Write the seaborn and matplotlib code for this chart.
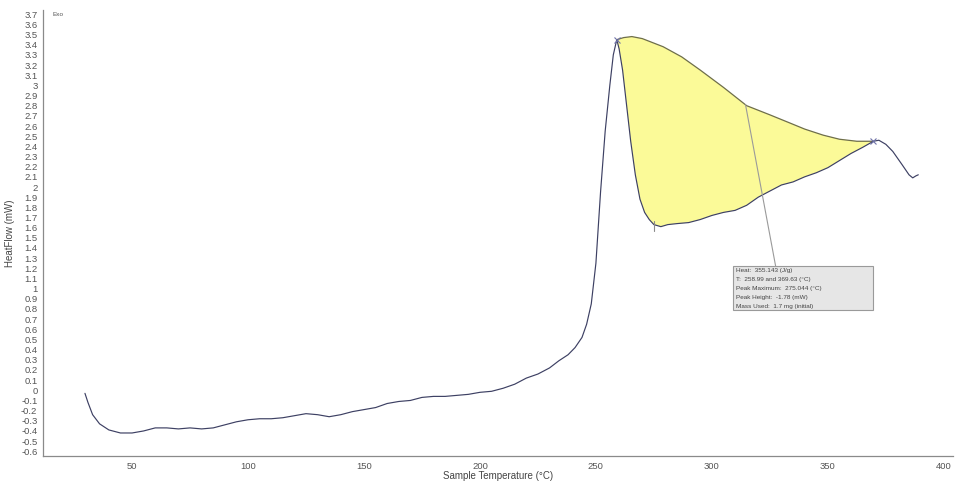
import numpy as np
import pandas as pd
import matplotlib
matplotlib.use("Agg")
import matplotlib.pyplot as plt
from matplotlib.patches import Rectangle
import seaborn as sns

# DSC heat-flow trace
temperature = [29.7, 31, 33, 36, 40, 45, 50, 55, 60, 65, 70, 75, 80, 85, 90, 95,
               100, 105, 110, 115, 120, 125, 130, 135, 140, 145, 150, 155, 160,
               165, 170, 175, 180, 185, 190, 195, 200, 205, 210, 215, 220, 225,
               230, 234, 238, 241, 244, 246, 248, 250, 252, 254, 256, 257.5,
               258.99, 260, 261.5, 263, 265, 267, 269, 271, 273, 275, 278, 281,
               285, 290, 295, 300, 305, 310, 315, 320, 325, 330, 335, 340, 345,
               350, 355, 360, 365, 369.63, 372, 375, 378, 382, 385, 386.6, 388, 389]
heat_flow = [-0.03, -0.12, -0.24, -0.33, -0.39, -0.42, -0.42, -0.40, -0.37, -0.37,
             -0.38, -0.37, -0.38, -0.37, -0.34, -0.31, -0.29, -0.28, -0.28, -0.27,
             -0.25, -0.23, -0.24, -0.26, -0.24, -0.21, -0.19, -0.17, -0.13, -0.11,
             -0.10, -0.07, -0.06, -0.06, -0.05, -0.04, -0.02, -0.01, 0.02, 0.06,
             0.12, 0.16, 0.22, 0.29, 0.35, 0.42, 0.52, 0.65, 0.85, 1.25, 1.95,
             2.55, 3.00, 3.30, 3.45, 3.36, 3.15, 2.85, 2.45, 2.12, 1.88, 1.75,
             1.68, 1.63, 1.61, 1.63, 1.64, 1.65, 1.68, 1.72, 1.75, 1.77, 1.82,
             1.90, 1.96, 2.02, 2.05, 2.10, 2.14, 2.19, 2.26, 2.33, 2.39, 2.45,
             2.46, 2.42, 2.35, 2.22, 2.12, 2.09, 2.11, 2.12]

# integration baseline between the two limits
baseline_t = [258.99, 262, 265.5, 270, 279, 287, 295, 305, 315, 325, 333.6, 340,
              348, 355, 362.5, 369.63]
baseline_hf = [3.45, 3.47, 3.48, 3.46, 3.38, 3.28, 3.15, 2.98, 2.80, 2.71, 2.63,
               2.57, 2.51, 2.47, 2.45, 2.45]

limit_start, limit_end = 258.99, 369.63
peak_max_t = 275.044

result_lines = ["Heat:  355.143 (J/g)",
                "T:  258.99 and 369.63 (°C)",
                "Peak Maximum:  275.044 (°C)",
                "Peak Height:  -1.78 (mW)",
                "Mass Used:  1.7 mg (initial)"]

x_major = [50, 100, 150, 200, 250, 300, 350, 400]
x_minor = [25, 75, 125, 175, 225, 275, 325, 375]
y_ticks = [round(v, 1) + 0.0 for v in np.arange(-0.6, 3.71, 0.1)]

sns.set_style("white")
plt.rcParams["font.family"] = ["Liberation Sans", "DejaVu Sans"]

df = pd.DataFrame({"T": temperature, "HF": heat_flow})

fig = plt.figure(figsize=(9.55, 4.83), dpi=100)
ax = fig.add_axes([0.045, 0.056, 0.953, 0.923])

# shaded peak area: trace between limits, closed by the baseline
seg = df[(df["T"] >= limit_start) & (df["T"] <= limit_end)]
poly_x = list(seg["T"]) + baseline_t[::-1]
poly_y = list(seg["HF"]) + baseline_hf[::-1]
ax.fill(poly_x, poly_y, color="#fbfa98", zorder=1, lw=0)
ax.plot(baseline_t, baseline_hf, color="#6e6e4a", lw=0.9, zorder=2)

sns.lineplot(data=df, x="T", y="HF", ax=ax, sort=False, estimator=None,
             color="#3d4063", lw=0.85, zorder=3)

# integration limit markers
lim_y = [df.loc[df["T"] == limit_start, "HF"].iloc[0],
         df.loc[df["T"] == limit_end, "HF"].iloc[0]]
ax.plot([limit_start, limit_end], lim_y, ls="none", marker="x", ms=4,
        mew=0.8, color="#6f72a8", zorder=4)

# peak maximum tick on the trace
ax.plot([peak_max_t, peak_max_t], [1.57, 1.67], color="#8a8a8a", lw=0.8, zorder=4)

# leader line and results box
ax.plot([314.5, 327.5], [2.81, 1.22], color="#9a9a9a", lw=0.8, zorder=4)
ax.add_patch(Rectangle((309, 0.79), 60.4, 0.43, facecolor="#e6e6e6",
                       edgecolor="#9a9a9a", lw=0.8, zorder=5))
for i, line in enumerate(result_lines):
    ax.text(310.5, 1.175 - i * 0.088, line, fontsize=4.6, color="#444444",
            va="center", ha="left", zorder=6)

ax.text(0.01, 0.991, "Exo", transform=ax.transAxes, fontsize=4.6,
        color="#555555", va="center", ha="left")

ax.set_xlim(11.6, 404)
ax.set_ylim(-0.646, 3.74)
ax.set_xticks(x_major)
ax.set_xticks(x_minor, minor=True)
ax.set_yticks(y_ticks)
ax.set_yticklabels([f"{v:g}" for v in y_ticks])

ax.tick_params(axis="y", which="major", direction="out", length=3, width=0.7,
               colors="#888888", labelcolor="#555555", labelsize=6.8, pad=1)
ax.tick_params(axis="x", which="both", direction="inout", length=4, width=0.7,
               colors="#999999", labelcolor="#555555", labelsize=6.8, pad=2)

ax.set_xlabel("Sample Temperature (°C)", fontsize=7, color="#444444", labelpad=0)
ax.set_ylabel("HeatFlow (mW)", fontsize=7, color="#444444", labelpad=4)

sns.despine(ax=ax)
for s in ("left", "bottom"):
    ax.spines[s].set_color("#8a8a8a")
    ax.spines[s].set_linewidth(0.9)

fig.savefig("out.png", dpi=100, facecolor="white")
